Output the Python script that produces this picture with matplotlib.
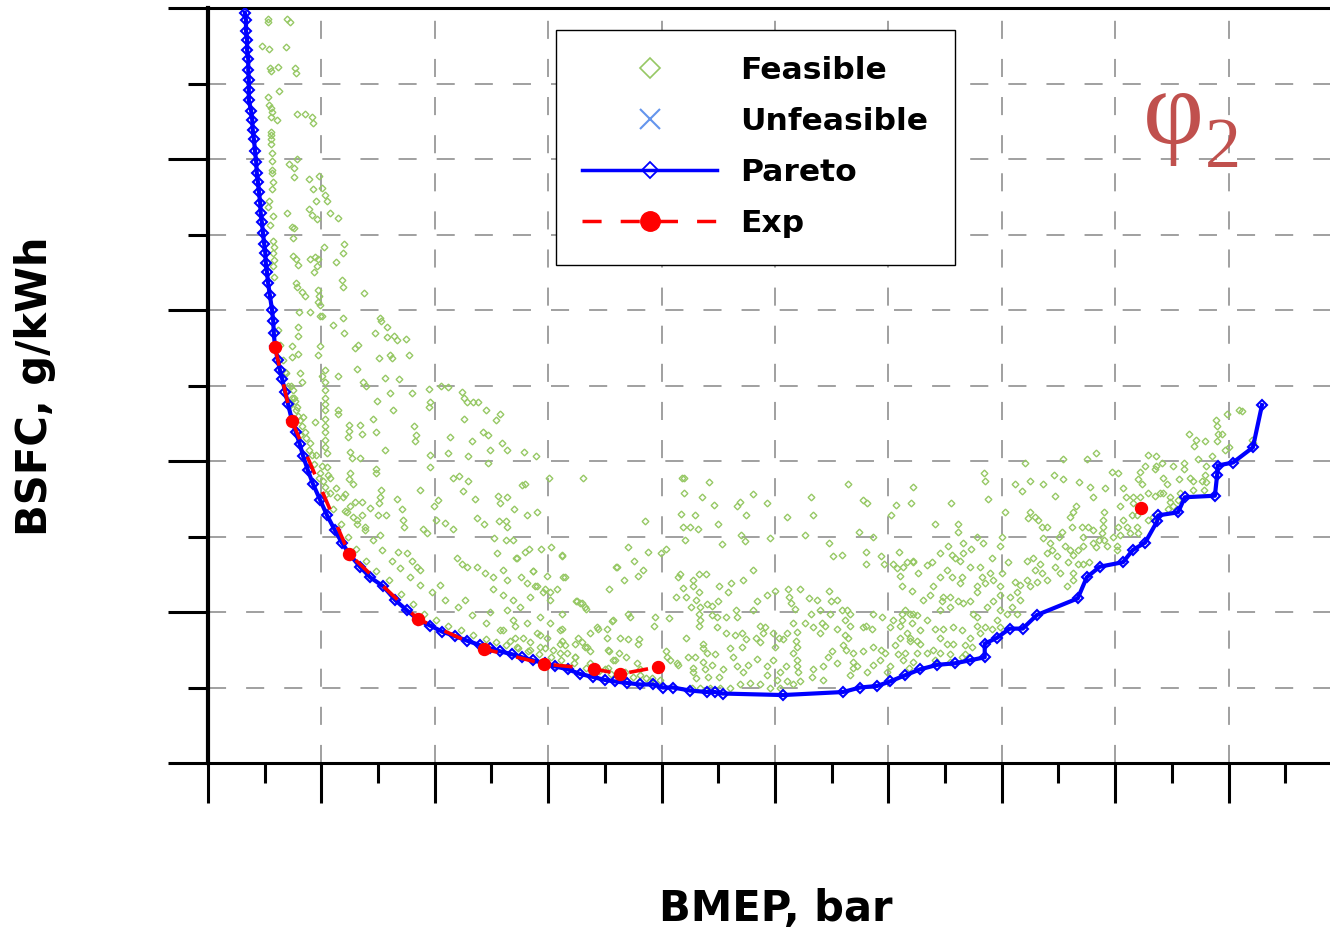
import matplotlib
matplotlib.use('Agg')
import matplotlib.pyplot as plt
from matplotlib.lines import Line2D
import numpy as np

# ---------------- data (BMEP in bar, BSFC in g/kWh) ----------------
pareto_bmep = [0.65, 0.67, 0.67, 0.69, 0.69, 0.71, 0.71, 0.72, 0.72, 0.72, 0.76, 0.78, 0.79, 0.81,
               0.83, 0.85, 0.86, 0.88, 0.90, 0.92, 0.93, 0.95, 0.97, 0.99, 1.01, 1.02, 1.04, 1.06,
               1.09, 1.13, 1.15, 1.16, 1.18, 1.23, 1.27, 1.31, 1.36, 1.41, 1.48, 1.55, 1.62, 1.68,
               1.76, 1.85, 1.98, 2.10, 2.24, 2.36, 2.50, 2.68, 2.86, 3.09, 3.30, 3.51, 3.70, 3.92,
               4.13, 4.36, 4.57, 4.80, 4.97, 5.15, 5.36, 5.54, 5.73, 5.94, 6.12, 6.35, 6.56, 6.79,
               7.00, 7.18, 7.39, 7.62, 7.85, 8.02, 8.20, 8.50, 8.80, 8.94, 9.08, 10.14, 11.20,
               11.50, 11.80, 12.03, 12.29, 12.56, 12.86, 13.17, 13.44, 13.70, 13.70, 13.92, 14.14,
               14.37, 14.62, 15.34, 15.50, 15.73, 16.14, 16.31, 16.53, 16.74, 16.76, 17.11, 17.23,
               17.76, 17.80, 17.81, 18.08, 18.43, 18.59]
pareto_bsfc = [697, 692, 685, 679, 672, 666, 659, 652, 646, 639, 632, 626, 619, 613,
               605, 598, 591, 585, 578, 571, 564, 558, 551, 544, 538, 531, 525, 518,
               510, 500, 493, 485, 476, 467, 460, 454, 446, 438, 427, 419, 411, 403,
               394, 385, 374, 364, 354, 346, 338, 330, 323, 317, 308, 301, 295, 291,
               287, 284, 281, 278, 276, 274, 272, 270, 268, 266, 264, 262, 259, 257,
               255, 254, 253, 252, 252, 250, 250, 248, 247, 247, 246, 245, 247,
               250, 251, 254, 258, 262, 265, 266, 268, 270, 279, 283, 289,
               289, 298, 309, 323, 330, 333, 341, 346, 360, 364, 366, 376,
               377, 391, 397, 399, 409, 437]

exp_bmep = [1.18, 1.48, 2.49, 3.70, 4.87, 5.93, 6.81, 7.27, 7.94, np.nan, 16.46]
exp_bsfc = [475.5, 426.5, 338.4, 295.4, 275.5, 265.6, 262.3, 258.9, 263.6, np.nan, 368.9]

unfeasible_bmep = []
unfeasible_bsfc = []

feasible_pts = [
    (1.06,693),(1.06,691),(1.39,693),(1.45,691),(0.95,675),(1.08,673),(1.38,674),(1.09,660),(1.11,658),
    (1.23,661),(1.53,660),(1.55,657),(1.25,645),(1.06,641),(1.08,636),(1.11,634),(1.13,631),(1.11,628),
    (1.22,626),(1.57,630),(1.71,630),(1.83,628),(1.85,624),(1.11,618),(1.11,616),(1.11,613),(1.11,610),
    (1.13,604),(1.13,599),(1.43,597),(1.57,600),(1.52,594),(1.52,588),(1.13,593),(1.13,591),(1.15,585),
    (1.13,580),(1.78,587),(1.96,589),(2.01,581),(1.85,580),(2.06,576),(2.10,572),(1.90,572),(1.08,572),
    (1.78,567),(1.83,563),(1.92,560),(2.15,564),(2.29,561),(1.39,564),(1.06,568),(1.15,562),(1.09,556),
    (1.48,555),(1.52,554),(1.50,548),(1.15,546),(1.16,542),(1.15,538),(1.16,533),(1.15,529),(1.16,522),
    (1.50,536),(1.55,534),(1.59,530),(1.80,534),(1.89,535),(1.94,534),(1.92,529),(1.87,525),(2.05,542),
    (2.40,544),(2.38,538),(2.26,532),(1.55,518),(1.57,515),(1.66,512),(1.71,509),(1.94,513),(1.96,509),
    (1.94,505),(1.98,503),(2.36,520),(2.38,515),(2.75,511),(1.60,499),(1.80,499),(1.98,496),(2.38,495),
    (3.03,495),
    (2.01,496),(2.20,490),(2.40,485),(1.59,489),(1.59,483),(1.48,476),(1.48,469),(1.59,471),(1.98,476),
    (1.94,470),(2.59,475),(2.65,477),(2.95,485),(3.05,493),(3.16,489),(3.16,482),(3.28,483),(3.33,480),
    (3.49,481),(3.02,468),(3.25,468),(3.21,470),(3.54,470),(2.63,461),(2.06,460),(2.01,456),(2.06,452),
    (2.06,447),(2.06,442),(2.06,438),(2.06,434),(2.06,428),(2.06,423),(2.06,419),(2.06,414),(2.06,409),
    (2.10,405),(2.29,456),(1.62,458),(1.66,452),(1.50,447),(1.53,440),(1.57,436),(1.68,429),(1.89,426),
    (2.29,434),(2.29,431),(2.73,452),(2.79,450),(2.98,440),(3.12,455),(3.21,445),(3.26,434),(3.37,454),
    (3.60,445),(2.91,428),(2.96,419),(2.68,424),(2.49,424),(2.49,420),(2.47,416),(2.72,418),(2.50,406),
    (2.54,402),(2.68,402),(3.12,407),(3.63,423),(3.67,417),(3.65,413),(3.90,448),(3.92,439),(3.90,436),
    (4.11,450),(4.23,449),(4.48,446),(4.51,442),(4.57,439),(4.67,439),(4.76,439),(4.90,434),(5.15,431),
    (5.08,427),(4.51,428),(4.27,416),(4.66,413),(4.85,419),(4.94,417),(5.19,412),(5.27,407),(4.97,407),
    (4.59,403),(4.23,405),(3.92,404),(3.92,396),(4.94,399),(5.57,406),(5.78,403),(2.10,396),(1.98,392),
    (2.03,387),(2.06,383),(2.15,379),(2.28,376),(2.50,392),(2.56,385),(2.49,388),(2.96,395),(2.96,392),
    (3.05,381),(3.03,376),(3.02,372),(3.00,364),(3.14,364),(2.86,369),(2.72,373),(2.59,373),(2.42,367),
    (2.45,366),(2.56,363),(2.63,358),(2.77,356),(3.33,375),(3.42,368),(3.44,361),(3.46,356),(3.74,381),
    (3.99,370),(4.06,374),(4.02,361),(4.18,359),(4.32,355),(3.79,355),(3.86,352),(4.32,389),(4.43,390),
    (4.59,387),(4.50,380),(4.71,375),(4.74,362),(4.87,358),(5.11,377),(5.15,372),(5.27,376),(5.40,368),
    (5.63,364),(5.80,366),(5.54,384),(5.59,385),(6.01,389),(6.61,389),(5.13,360),(5.26,360),(5.27,356),
    (5.04,349),(5.26,348),(5.38,348),(5.10,339),(5.43,336),(5.59,340),(5.66,342),(5.87,342),(6.05,343),
    (6.24,337),(6.30,323),(7.20,330),(7.07,315),(6.51,307),(6.60,306),(6.65,303),(6.24,299),(7.14,295),
    (6.74,286),(6.88,289),(7.04,289),(5.98,324),(5.73,327),(5.52,323),
    (3.51,339),(3.60,334),(3.69,330),(4.39,336),(4.48,332),(4.57,330),(4.74,330),(4.89,326),(5.03,323),
    (5.63,319),(5.77,317),(5.94,315),(6.03,313),(5.03,315),(5.20,311),(5.38,308),
    (1.23,487),(1.27,477),(1.32,467),(1.36,459),(1.41,450),(1.48,442),(1.55,434),(1.62,427),(1.71,419),
    (1.80,412),(1.90,404),(2.01,397),(2.15,389),(2.26,382),(2.38,376),(2.50,370),(2.63,361),(2.77,354),
    (2.91,348),(3.07,341),(3.25,334),(3.39,329),(3.56,323),(3.74,318),(3.95,313),(4.18,308),(4.41,303),
    (4.66,298),(4.90,293),(5.15,288),(5.41,283),(5.68,280),(5.94,276),(6.21,273),(6.47,270),(6.74,266),
    (7.05,263),(7.35,260),(7.62,258),
    (1.45,437),(1.62,417),(1.83,404),(2.12,391),(2.42,378),(2.72,364),(3.03,351),(3.35,340),(3.74,328),
    (4.09,318),(4.53,308),(4.97,300),(5.41,291),(5.86,285),(6.30,278),(6.74,274),(7.18,268),
    (1.38,458),(1.46,450),(1.52,442),(1.59,430),(1.66,423),(1.73,415),(1.78,407),(1.87,398),(1.96,389),
    (2.08,378),(2.20,368),(2.35,358),(2.47,350),(2.61,342),(2.79,334),(2.96,327),(3.19,321),(3.40,312),
    (3.62,305),(3.81,299),(4.02,295),(4.23,291),(4.46,288),(4.67,285),(4.90,282),(5.08,280),(5.26,278),
    (5.47,276),(5.64,274),(5.84,272),(6.05,270),(6.23,268),(6.46,266),(6.67,263),(6.90,261),(7.11,259),
    (7.28,258),(7.50,257),(7.72,256),
    (5.20,328),(5.27,321),(5.45,336),(5.73,327),(5.91,313),(6.03,308),(6.16,315),(6.26,323),(5.80,317),
    (5.68,310),(5.50,303),(5.27,301),(5.38,295),(5.63,293),(5.86,297),(6.03,293),(6.21,288),(5.98,283),
    (5.80,286),(5.56,283),(5.33,281),(5.20,288),(5.86,277),(6.08,275),(6.21,279),(6.33,273),(5.68,275),
    (5.45,277),
    (8.36,389),(8.40,389),(8.84,386),(8.40,379),(8.71,376),(8.92,371),(9.38,373),(9.33,370),(9.61,378),
    (9.86,372),(9.49,364),(8.34,365),(8.59,364),(8.99,358),(8.38,356),(8.50,356),(8.64,355),(8.41,348),
    (7.71,360),(9.40,351),(9.47,347),(9.07,345),(9.91,349),(10.21,363),(10.53,351),(10.63,376),(10.67,364),
    (11.29,385),(11.55,374),(11.62,372),(11.48,353),(11.73,350),(12.05,364),(12.13,371),(12.43,383),
    (12.40,372),(10.95,346),(11.18,338),(11.02,337),(11.60,340),(11.60,332),(11.87,337),(11.92,332),
    (12.08,332),(12.19,340),(12.33,333),(12.43,334),(12.15,329),(12.20,324),(12.24,317),(12.42,314),
    (7.41,343),(7.76,340),(7.99,339),(8.08,342),(7.51,334),(7.21,330),(7.67,328),(7.58,324),(7.34,321),
    (6.24,338),(6.49,307),(6.56,306),(6.67,302),(7.13,294),(7.41,299),(7.44,297),(6.86,290),(7.04,283),
    (7.27,283),(7.41,282),(7.60,282),(7.58,279),(7.07,274),(7.25,273),(7.37,270),(6.65,277),(6.47,279),
    (6.47,270),(7.88,297),(7.87,291),(8.13,296),(8.08,274),(8.27,266),(8.32,325),(8.29,323),(8.25,310),
    (8.43,310),(8.38,316),(8.55,321),(8.55,317),(8.66,325),(8.78,325),(8.66,313),(8.61,308),(8.52,303),
    (8.68,303),(8.80,305),(8.89,304),(8.89,298),(8.66,299),(8.68,295),(8.66,291),(8.43,283),(8.73,279),
    (8.73,276),(8.80,273),(8.59,270),(8.47,270),(8.98,297),(8.98,290),(9.14,297),(9.31,301),(9.33,297),
    (9.14,286),(9.29,285),(9.21,276),(9.42,277),(9.49,282),(9.42,286),(9.00,307),(9.17,313),(9.22,319),
    (9.01,317),(9.44,321),(9.61,328),(9.68,307),(9.61,301),(9.86,311),(10.00,314),(10.23,315),(10.25,310),
    (10.28,306),(10.35,302),(10.44,315),(10.60,309),(10.74,308),(10.79,301),(10.95,314),(10.99,307),
    (11.09,308),(11.18,301),(11.23,295),(11.32,291),(10.97,299),(10.83,293),(10.63,299),(10.53,293),
    (10.67,290),(10.88,291),(10.79,286),(11.09,289),(11.23,285),(11.29,283),(11.20,278),(9.74,291),
    (9.82,290),(9.66,283),(9.74,280),(9.79,286),(9.96,286),(10.07,283),(10.00,277),(10.14,282),(10.21,286),
    (10.32,293),(10.39,287),(10.37,281),(10.39,277),(10.32,273),(10.39,268),(10.39,264),(10.41,260),
    (10.19,264),(10.09,260),(9.86,264),(9.96,268),(9.68,269),(9.52,265),(9.33,264),(9.44,260),(9.26,270),
    (8.94,272),(8.89,265),(9.08,262),(9.01,257),(8.82,257),(8.55,260),(8.61,256),(8.73,267),(8.55,263),
    (8.77,262),(9.86,258),(10.04,255),(10.21,254),(10.44,254),(10.65,257),(10.85,255),(10.67,262),
    (10.85,264),(10.93,270),(11.01,274),(11.09,266),(11.25,275),(11.38,273),(11.38,267),(11.38,263),
    (11.32,258),(11.45,264),(11.55,274),(11.55,290),(11.73,277),(11.87,275),(11.94,273),(11.85,268),
    (11.73,265),(11.62,260),(11.98,260),(12.03,264),(12.17,272),(12.12,278),(12.20,283),(12.33,286),
    (12.38,281),(12.20,291),(12.08,295),(11.89,297),(11.73,299),(11.71,289),(11.60,291),(11.32,299),
    (11.27,301),(12.43,299),(12.24,299),(12.03,290),(12.26,268),(12.36,263),(12.50,273),(12.50,281),
    (8.54,250),(8.68,250),(8.85,250),(9.03,250),(9.21,250),(9.38,252),(9.56,253),(9.74,252),(9.91,250),
    (10.09,250),(10.32,252),(7.97,255),(7.80,254),(8.10,270),(8.15,268),(8.29,265),
    (6.24,289),(6.24,281),(6.53,283),(6.60,280),(6.68,277),(7.05,275),(7.14,268),(7.00,262),(7.57,266),
    (7.62,262),(7.83,256),
    (13.10,372),(12.82,358),(13.23,358),(13.23,353),(13.56,350),(13.69,392),(13.70,387),(13.76,375),
    (14.06,366),(14.41,399),(14.23,385),(14.36,380),(14.50,387),(14.73,385),(14.92,391),(14.94,377),
    (15.08,401),(15.08,388),(15.36,386),(15.56,383),(15.50,401),(15.66,405),(15.61,376),(15.82,382),
    (15.94,393),(16.05,392),(16.14,382),(16.19,376),(16.31,376),(16.44,393),(16.58,404),(16.72,403),
    (16.53,397),(16.72,397),(16.83,399),(16.70,395),(16.40,388),(16.47,385),(16.84,389),(16.91,385),
    (17.02,397),(17.21,399),(17.21,395),(17.30,418),(17.39,410),(17.43,414),(17.46,401),(17.58,413),
    (17.71,403),(17.78,427),(17.80,423),(17.81,418),(17.88,418),(17.80,413),(17.94,407),(18.01,409),
    (17.97,431),(18.18,434),(18.24,433),(18.41,414),(18.43,412),(17.60,397),(17.58,391),(17.53,387),
    (17.37,387),(17.32,389),(17.13,388),(17.14,379),(17.37,381),(17.57,381),(17.60,386),(17.11,374),
    (16.97,376),(16.84,379),(16.79,379),(16.70,377),(16.58,379),(16.44,376),(16.31,372),(16.30,364),
    (16.38,364),(16.58,361),(16.67,363),(16.97,373),(17.02,370),(16.93,368),(16.08,370),(16.14,361),
    (16.21,356),(16.26,352),(16.38,356),(16.40,352),(16.05,356),(16.08,351),(15.96,350),(16.03,344),
    (16.03,341),(15.80,366),(15.78,361),(15.78,356),(15.77,352),(15.80,348),(15.86,344),(15.71,348),
    (15.66,343),(15.61,354),(15.52,356),(15.41,356),(15.43,350),(15.61,346),(15.43,344),(15.34,341),
    (15.24,356),(15.26,366),(15.31,370),(15.20,363),(15.06,353),(15.01,350),(15.11,344),(15.20,341),
    (15.26,338),(15.17,333),(15.34,332),(15.43,332),(15.54,333),(15.26,326),(15.26,321),(15.15,317),
    (15.03,326),(14.94,330),(14.97,337),(14.89,341),(14.85,346),(14.80,339),(14.73,349),(14.71,356),
    (14.80,356),(14.64,361),(14.59,363),(14.50,366),(14.46,362),(14.55,336),(14.44,334),(14.67,332),
    (14.59,328),(14.71,326),(14.80,321),(14.62,320),(14.44,321),(14.50,317),(14.32,318),(14.23,320),
    (14.27,313),(14.32,308),(14.14,310),(14.18,303),(14.27,299),(14.09,299),(13.97,301),(13.92,295),
    (13.97,290),(13.83,289),(13.70,290),(13.62,286),(13.56,291),(13.56,297),(13.49,299),(13.74,303),
    (13.84,307),(13.97,311),(13.97,317),(13.84,321),(13.70,319),(13.65,323),(13.79,326),(13.62,330),
    (13.83,336),(13.97,344),(14.00,350),(14.11,333),(14.00,326),(13.44,330),(13.46,342),(13.32,339),
    (13.26,334),(13.17,336),(13.12,338),(12.91,339),(13.05,344),(13.32,346),(13.67,346),(12.68,331),
    (12.77,333),(12.43,333),(12.26,330),(12.52,326),(13.03,328),(12.91,323),(13.12,323),(13.30,323),
    (13.26,319),(13.56,317),(13.56,313),(13.44,307),(13.32,306),(13.23,307),(13.09,310),(12.96,310),
    (12.95,307),(13.09,303),(12.91,301),(12.79,317),(12.73,311),(12.61,308),(12.50,298),(12.38,299),
    (12.29,301),(12.24,295),(12.42,293),(12.56,288),(12.68,295),(12.82,289),(12.96,289),(13.14,290),
    (13.30,288),(13.44,283),(13.47,277),(13.35,278),(13.14,279),(13.03,279),(12.91,283),(12.79,275),
    (12.91,273),(13.09,272),(13.30,270),(12.56,279),(12.38,283),(12.29,273),(12.43,267),(12.68,273),
    (12.82,268),(13.09,267),(13.35,272),
]

# ---------------- style constants ----------------
W, H = 1330, 931
GREEN = '#96C864'
BLUE = '#0000FF'
RED = '#FF0000'
LIGHTBLUE = '#6495ED'
GRID = '#A0A0A0'

fig = plt.figure(figsize=(W / 100, H / 100), dpi=100)
ax = fig.add_axes([208 / W, 1 - 763 / H, 1 - 208 / W, (763 - 8) / H])
ax.set_xlim(0, 19.79)
ax.set_ylim(200, 700)

ax.set_xticks(np.arange(0, 19, 2))
ax.set_xticks(np.arange(1, 20, 2), minor=True)
ax.set_yticks(np.arange(200, 701, 100))
ax.set_yticks(np.arange(250, 700, 100), minor=True)
ax.tick_params(which='major', direction='out', length=28.8, width=2.2, color='black',
               labelbottom=False, labelleft=False, top=False, right=False)
ax.tick_params(which='minor', direction='out', length=14.4, width=2.2, color='black',
               top=False, right=False)

dash = (0, (9.3, 10.3))
ax.grid(True, which='major', axis='x', color=GRID, lw=1.4, linestyle=dash)
ax.grid(True, which='both', axis='y', color=GRID, lw=1.4, linestyle=dash)
ax.set_axisbelow(True)

ax.spines['right'].set_visible(False)
ax.spines['left'].set_linewidth(3.0)
ax.spines['bottom'].set_linewidth(2.2)
ax.spines['top'].set_linewidth(2.2)

fx = [p[0] for p in feasible_pts]
fy = [p[1] for p in feasible_pts]
ax.plot(fx, fy, ls='none', marker='D', ms=3.4, mfc='none', mec=GREEN, mew=1.0, zorder=2)
ax.plot(unfeasible_bmep, unfeasible_bsfc, ls='none', marker='x', ms=5, mec=LIGHTBLUE, zorder=2)
ax.plot(pareto_bmep, pareto_bsfc, color=BLUE, lw=3.0, marker='D', ms=5.5, mfc='none',
        mec=BLUE, mew=1.5, zorder=3)
ax.plot(exp_bmep, exp_bsfc, color=RED, lw=2.6, linestyle=(0, (5.3, 5.3)), marker='o', ms=8.6,
        mec=RED, mfc=RED, zorder=4)

handles = [
    Line2D([], [], ls='none', marker='D', ms=10, mfc='none', mec=GREEN, mew=1.2),
    Line2D([], [], ls='none', marker='x', ms=14, mec=LIGHTBLUE, mew=1.5),
    Line2D([], [], color=BLUE, lw=2.5, marker='D', ms=8.5, mfc='none', mec=BLUE, mew=1.3),
    Line2D([], [], color=RED, lw=2.5, linestyle=(0, (5.5, 5.5)), marker='o', ms=14, mec=RED, mfc=RED),
]
labels = ['Feasible', 'Unfeasible', 'Pareto', 'Exp']
leg = ax.legend(handles, labels, loc='upper left', bbox_to_anchor=(556 / W, 1 - 30 / H),
                bbox_transform=fig.transFigure, prop={'weight': 'bold', 'size': 22.6},
                frameon=True, fancybox=False, edgecolor='black', framealpha=1,
                handlelength=4.3, handletextpad=0.74, labelspacing=0.7, borderpad=0.84,
                borderaxespad=0, numpoints=1)
leg.get_frame().set_linewidth(1.0)

fig.text(776 / W, 1 - 921 / H, 'BMEP, bar', ha='center', va='baseline',
         fontsize=30, fontweight='bold')
fig.text(35 / W, 1 - 386 / H, 'BSFC, g/kWh', ha='center', va='center', rotation=90,
         fontsize=30, fontweight='bold')

fig.text(1143 / W, 1 - 143 / H, 'φ', family=['Liberation Serif', 'DejaVu Serif'],
         fontsize=76, color='#C0504D', ha='left', va='baseline')
fig.text(1205 / W, 1 - 167 / H, '2', family=['Liberation Serif', 'DejaVu Serif'],
         fontsize=52, color='#C0504D', ha='left', va='baseline')

fig.savefig('out.png', dpi=100)
